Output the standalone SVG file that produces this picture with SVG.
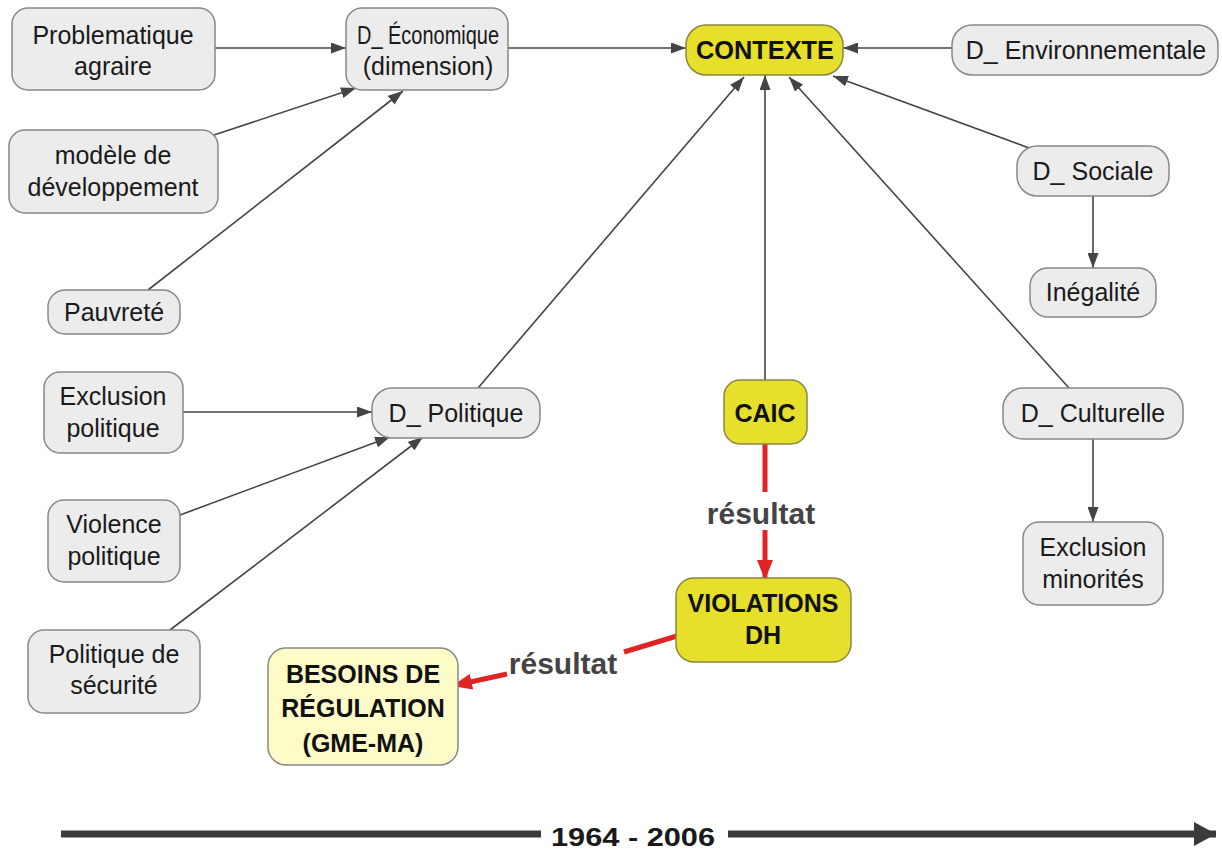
<svg xmlns="http://www.w3.org/2000/svg" width="1222" height="850" viewBox="0 0 1222 850">
<defs>
<marker id="ah" viewBox="0 0 15 11" refX="15" refY="5.5" markerWidth="15" markerHeight="11" markerUnits="userSpaceOnUse" orient="auto"><path d="M0,0 L15,5.5 L0,11 Z" fill="#444"/></marker>
<marker id="ahr" viewBox="0 0 20 16" refX="20" refY="8" markerWidth="20" markerHeight="16" markerUnits="userSpaceOnUse" orient="auto"><path d="M0,0 L20,8 L0,16 Z" fill="#e02424"/></marker>
<marker id="aht" viewBox="0 0 22 24" refX="22" refY="12" markerWidth="22" markerHeight="24" markerUnits="userSpaceOnUse" orient="auto"><path d="M0,0 L22,12 L0,24 Z" fill="#3a3a3a"/></marker>
</defs>
<style>
.n rect{fill:#ececec;stroke:#888;stroke-width:1.5}
.y rect{fill:#e6df2c;stroke:#8a8740;stroke-width:1.5}
.p rect{fill:#fdfbc8;stroke:#888;stroke-width:1.5}
text{font-family:"Liberation Sans",Arial,sans-serif;font-size:25px;fill:#1a1a1a;text-anchor:middle}
.b text{font-weight:bold;fill:#111}
.c line{stroke:#444;stroke-width:1.6;marker-end:url(#ah)}
.c .r{stroke:#e02424;stroke-width:5;marker-end:none}
.c .ra{stroke:#e02424;stroke-width:5;marker-end:url(#ahr)}
.lbl{font-weight:bold;font-size:30px;fill:#444}
</style>
<rect width="1222" height="850" fill="#fff"/>
<g id="connectors" class="c">
<line x1="215" y1="48" x2="346" y2="48"/>
<line x1="214" y1="135" x2="356" y2="88"/>
<line x1="148" y1="290" x2="403" y2="91"/>
<line x1="508" y1="48" x2="686" y2="48"/>
<line x1="952" y1="48" x2="843" y2="48"/>
<line x1="1029" y1="148" x2="833" y2="76"/>
<line x1="478" y1="388" x2="744" y2="77"/>
<line x1="765" y1="380" x2="765" y2="75"/>
<line x1="1069" y1="388" x2="789" y2="77"/>
<line x1="1093" y1="196" x2="1093" y2="268"/>
<line x1="1093" y1="439" x2="1093" y2="522"/>
<line x1="183" y1="412" x2="372" y2="412"/>
<line x1="180" y1="515" x2="390" y2="437"/>
<line x1="170" y1="630" x2="423" y2="437"/>
<line class="r" x1="765" y1="444" x2="765" y2="492"/>
<line class="ra" x1="765" y1="530" x2="765" y2="580"/>
<line class="r" x1="677" y1="636" x2="624" y2="652"/>
<line class="ra" x1="507" y1="674" x2="452" y2="686"/>
<text class="lbl" x="761" y="524">résultat</text>
<text class="lbl" x="563" y="674">résultat</text>
</g>
<g id="n-problematique" class="n"><rect x="12" y="8" width="203" height="82" rx="16"/><text x="113" y="44">Problematique</text><text x="113" y="75">agraire</text></g>
<g id="n-economique" class="n"><rect x="346" y="8" width="162" height="82" rx="16"/><text x="428" y="44" textLength="142" lengthAdjust="spacingAndGlyphs">D_ Économique</text><text x="428" y="75">(dimension)</text></g>
<g id="n-contexte" class="y b"><rect x="686" y="25" width="157" height="50" rx="20"/><text x="765" y="59" font-size="24" textLength="138" lengthAdjust="spacingAndGlyphs">CONTEXTE</text></g>
<g id="n-environnementale" class="n"><rect x="952" y="25" width="266" height="50" rx="20"/><text x="1086" y="59">D_ Environnementale</text></g>
<g id="n-modele" class="n"><rect x="9" y="130" width="209" height="83" rx="16"/><text x="113" y="164">modèle de</text><text x="113" y="196">développement</text></g>
<g id="n-sociale" class="n"><rect x="1017" y="146" width="152" height="50" rx="20"/><text x="1093" y="180">D_ Sociale</text></g>
<g id="n-inegalite" class="n"><rect x="1030" y="268" width="126" height="49" rx="18"/><text x="1093" y="301">Inégalité</text></g>
<g id="n-pauvrete" class="n"><rect x="48" y="290" width="132" height="44" rx="17"/><text x="114" y="321">Pauvreté</text></g>
<g id="n-exclusion-politique" class="n"><rect x="44" y="372" width="139" height="81" rx="16"/><text x="113" y="405">Exclusion</text><text x="113" y="437">politique</text></g>
<g id="n-politique" class="n"><rect x="372" y="388" width="168" height="50" rx="20"/><text x="456" y="422">D_ Politique</text></g>
<g id="n-caic" class="y b"><rect x="724" y="380" width="83" height="64" rx="16"/><text x="765" y="422">CAIC</text></g>
<g id="n-culturelle" class="n"><rect x="1003" y="388" width="180" height="51" rx="20"/><text x="1093" y="422">D_ Culturelle</text></g>
<g id="n-violence" class="n"><rect x="48" y="500" width="132" height="82" rx="16"/><text x="114" y="533">Violence</text><text x="114" y="565">politique</text></g>
<g id="n-minorites" class="n"><rect x="1023" y="522" width="140" height="83" rx="16"/><text x="1093" y="556">Exclusion</text><text x="1093" y="588">minorités</text></g>
<g id="n-violations" class="y b"><rect x="676" y="578" width="175" height="84" rx="18"/><text x="763" y="612">VIOLATIONS</text><text x="763" y="644">DH</text></g>
<g id="n-securite" class="n"><rect x="28" y="630" width="172" height="83" rx="16"/><text x="114" y="663">Politique de</text><text x="114" y="694">sécurité</text></g>
<g id="n-besoins" class="p b"><rect x="268" y="648" width="190" height="117" rx="18"/><text x="363" y="683">BESOINS DE</text><text x="363" y="717">RÉGULATION</text><text x="363" y="752">(GME-MA)</text></g>
<g id="timeline">
<line x1="61" y1="834" x2="541" y2="834" stroke="#3a3a3a" stroke-width="7"/>
<line x1="728" y1="834" x2="1216" y2="834" stroke="#3a3a3a" stroke-width="7" marker-end="url(#aht)"/>
<text x="633" y="846" font-size="38" font-weight="bold" fill="#333" textLength="164" lengthAdjust="spacingAndGlyphs">1964 - 2006</text>
</g>
</svg>
